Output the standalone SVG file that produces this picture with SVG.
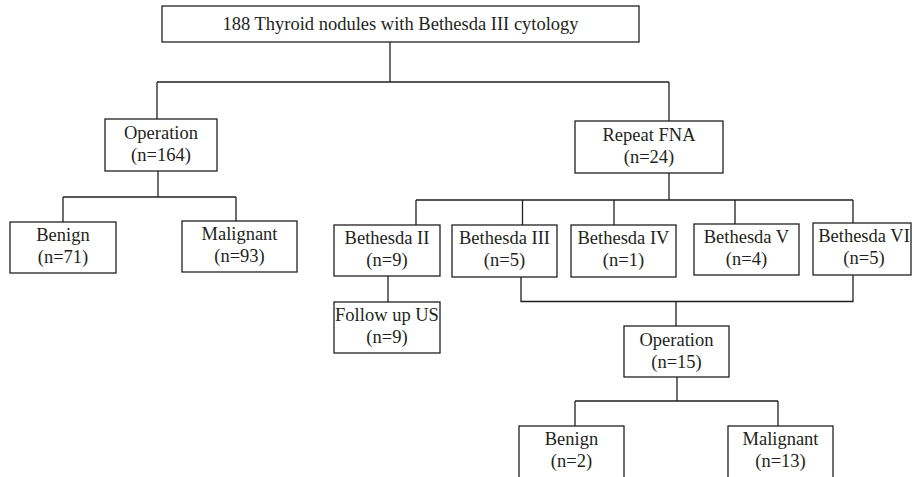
<svg xmlns="http://www.w3.org/2000/svg" width="912" height="477" viewBox="0 0 912 477">
<style>
.box{fill:#fff;stroke:#231f20;stroke-width:1.3}
.ln{fill:none;stroke:#231f20;stroke-width:1.3}
text{font-family:"Liberation Serif","Times New Roman",serif;font-size:18.5px;fill:#231f20;text-anchor:middle}
</style>
<rect width="912" height="477" fill="#fff"/>
<g id="connectors" class="ln">
<path d="M390 42V82M157 82H669M157 82V119M669 82V121"/>
<path d="M158 171V197M63 197H236M63 197V222M236 197V221"/>
<path d="M669 173V200M416 200H853M416 200V225M522.5 200V225M614 200V225M735 200V224M853 200V223"/>
<path d="M388 276V302"/>
<path d="M521 277V301.5H853V275M676 301.5V326"/>
<path d="M677 377V401M575 401H778M575 401V426M778 401V426"/>
</g>
<g id="root"><rect class="box" x="162" y="6" width="477" height="36"/><text x="400.5" y="30">188 Thyroid nodules with Bethesda III cytology</text></g>
<g id="operation"><rect class="box" x="105" y="119" width="112" height="52"/><text x="161" y="139">Operation</text><text x="161" y="161">(n=164)</text></g>
<g id="repeat-fna"><rect class="box" x="575" y="121" width="148" height="52"/><text x="649" y="141">Repeat FNA</text><text x="649" y="163">(n=24)</text></g>
<g id="benign1"><rect class="box" x="10" y="222" width="106" height="51"/><text x="63" y="241">Benign</text><text x="63" y="263">(n=71)</text></g>
<g id="malignant1"><rect class="box" x="182" y="221" width="115" height="51"/><text x="239.5" y="240">Malignant</text><text x="239.5" y="262">(n=93)</text></g>
<g id="bethesda2"><rect class="box" x="334" y="225" width="106" height="51"/><text x="387" y="244">Bethesda II</text><text x="387" y="266">(n=9)</text></g>
<g id="bethesda3"><rect class="box" x="452" y="225" width="105" height="52"/><text x="504.5" y="244">Bethesda III</text><text x="504.5" y="266">(n=5)</text></g>
<g id="bethesda4"><rect class="box" x="571" y="225" width="105" height="52"/><text x="623.5" y="244">Bethesda IV</text><text x="623.5" y="266">(n=1)</text></g>
<g id="bethesda5"><rect class="box" x="694" y="224" width="105" height="51"/><text x="746.5" y="243">Bethesda V</text><text x="746.5" y="265">(n=4)</text></g>
<g id="bethesda6"><rect class="box" x="813" y="223" width="98" height="52"/><text x="864" y="242">Bethesda VI</text><text x="864" y="264">(n=5)</text></g>
<g id="followup"><rect class="box" x="334" y="302" width="106" height="51"/><text x="387" y="321">Follow up US</text><text x="387" y="343">(n=9)</text></g>
<g id="operation2"><rect class="box" x="624" y="326" width="105" height="51"/><text x="676.5" y="346">Operation</text><text x="676.5" y="368">(n=15)</text></g>
<g id="benign2"><rect class="box" x="519" y="426" width="105" height="52"/><text x="571.5" y="445">Benign</text><text x="571.5" y="467">(n=2)</text></g>
<g id="malignant2"><rect class="box" x="728" y="426" width="105" height="52"/><text x="780.5" y="445">Malignant</text><text x="780.5" y="467">(n=13)</text></g>
</svg>
